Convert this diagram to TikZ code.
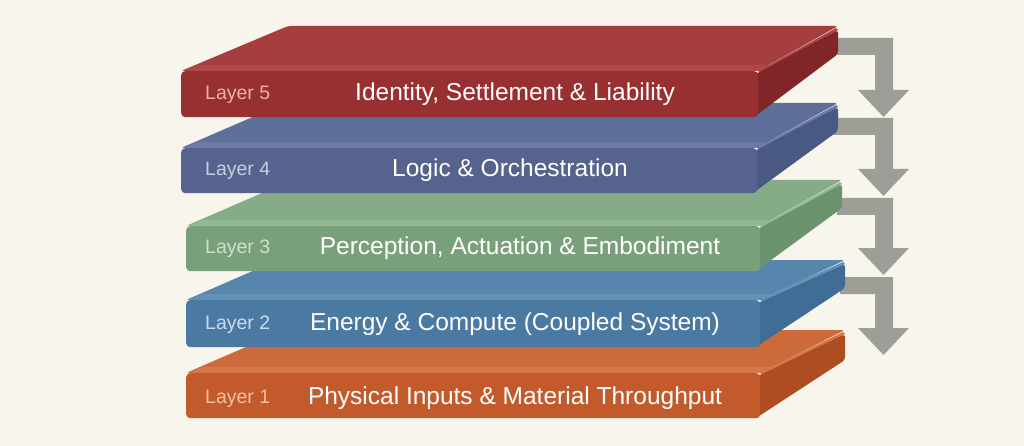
\documentclass[tikz,border=0pt]{standalone}
\usepackage{fontspec}
\setmainfont{Liberation Sans}
\definecolor{bg}{HTML}{F8F5EC}
\definecolor{arr}{HTML}{9E9E98}
% layer 5 red
\definecolor{rtop}{HTML}{A63E40}\definecolor{rfront}{HTML}{982F31}\definecolor{rside}{HTML}{802628}\definecolor{rbev}{HTML}{AE4747}\definecolor{rlab}{HTML}{F0B0AA}
% layer 4 indigo
\definecolor{itop}{HTML}{5F6F99}\definecolor{ifront}{HTML}{55638E}\definecolor{iside}{HTML}{4A5884}\definecolor{ibev}{HTML}{6B7BA5}\definecolor{ilab}{HTML}{C8CDE0}
% layer 3 green
\definecolor{gtop}{HTML}{86AC87}\definecolor{gfront}{HTML}{79A07B}\definecolor{gside}{HTML}{6A936D}\definecolor{gbev}{HTML}{93B994}\definecolor{glab}{HTML}{CFE0CC}
% layer 2 blue
\definecolor{btop}{HTML}{5685AD}\definecolor{bfront}{HTML}{4A79A2}\definecolor{bside}{HTML}{3F6D96}\definecolor{bbev}{HTML}{6591B6}\definecolor{blab}{HTML}{C9DCEB}
% layer 1 orange
\definecolor{otop}{HTML}{CC6A3C}\definecolor{ofront}{HTML}{C35A2B}\definecolor{oside}{HTML}{AE4C22}\definecolor{obev}{HTML}{D57849}\definecolor{olab}{HTML}{F5C0A5}
% #1 L, #2 R, #3 T, #4 B, #5 back y, #6 back left x, #7 back right x, #8 side back bottom y, #9 colour prefix / node name
\newcommand\myslab[9]{%
  \fill[#9top, rounded corners=3pt] (#1,-#3) -- (#6,-#5) -- (#7,-#5) -- (#2,-#3) -- cycle;
  \fill[#9bev] (#1+2,-#3) -- ({#1+2+14},{-#3+6}) -- ({#2+11},{-#3+6}) -- ({#7-2},{-#5-2}) -- ({#7},{-#5-4}) -- ({#2+2},{-#3-2}) -- (#2,-#3) -- cycle;
  \fill[#9side, rounded corners=3pt] (#2-4,-#3-4) -- ({#7},{-#5-4}) -- (#7,-#8) -- (#2-4,-#4) -- cycle;
  \node[frontface, fill=#9front, minimum width={#2-#1}, minimum height={#4-#3}] (#9) at (#1,-#3) {};
}
\begin{document}
\begin{tikzpicture}[x=1pt,y=1pt,
  frontface/.style={draw=none, rounded corners=4pt, anchor=north west, inner sep=0pt},
  maintext/.style={text=white, font=\fontsize{24.5}{28}\selectfont, anchor=base},
  labtext/.style={font=\fontsize{19.5}{22}\selectfont, anchor=base west, inner sep=0pt},
  arrowbody/.style={fill=arr}]
\fill[bg] (0,0) rectangle (1024,-446);
\useasboundingbox (0,0) rectangle (1024,-446);
% arrows (behind slabs)
\foreach \a/\h/\x in {38/90/833, 118/169/833, 198/248/837, 277/328/840}{
  \fill[arrowbody] (\x,-\a) -- (893,-\a) -- (893,-\h) -- (909,-\h) -- (883.5,{-\h-27}) -- (858,-\h) -- (875,-\h) -- (875,{-\a-17}) -- (\x,{-\a-17}) -- cycle;
}
% slabs, bottom to top
\myslab{186}{760}{373}{418}{330}{285}{845}{360}{o}
\myslab{186}{760}{300}{347}{260}{278}{845}{288}{b}
\myslab{186}{760}{226}{271}{180}{292}{842}{208}{g}
\myslab{181}{757}{148}{193}{103}{285}{838}{131}{i}
\myslab{181}{758}{71}{117}{26}{288}{838}{54}{r}
% texts
\node[labtext, text=rlab] (l5) at (205,-100) {Layer 5};
\node[maintext] (t5) at (515,-101) {Identity, Settlement \& Liability};
\node[labtext, text=ilab] (l4) at (205,-176) {Layer 4};
\node[maintext] (t4) at (510,-177) {Logic \& Orchestration};
\node[labtext, text=glab] (l3) at (205,-253) {Layer 3};
\node[maintext] (t3) at (520,-254) {Perception, Actuation \& Embodiment};
\node[labtext, text=blab] (l2) at (205,-329) {Layer 2};
\node[maintext] (t2) at (515,-330) {Energy \& Compute (Coupled System)};
\node[labtext, text=olab] (l1) at (205,-403) {Layer 1};
\node[maintext] (t1) at (515,-404) {Physical Inputs \& Material Throughput};
\end{tikzpicture}
\end{document}
